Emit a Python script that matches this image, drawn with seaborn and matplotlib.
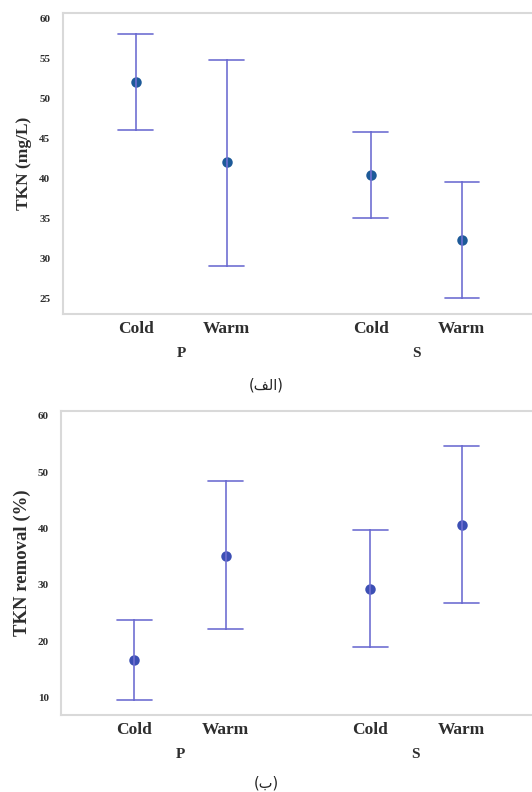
import numpy as np
import pandas as pd
import matplotlib
matplotlib.use("Agg")
import matplotlib.pyplot as plt
import matplotlib.transforms as mtransforms
import seaborn as sns

# ---- data ----
groups = ["P", "S"]
conditions = ["Cold", "Warm"]

# panel (الف): TKN (mg/L)
tkn_mean = [52.0, 42.0, 40.4, 32.2]
tkn_low = [46.0, 29.0, 35.0, 25.0]
tkn_high = [58.0, 54.8, 45.8, 39.5]

# panel (ب): TKN removal (%)
rem_mean = [16.7, 35.1, 29.2, 40.6]
rem_low = [9.5, 22.1, 18.9, 26.7]
rem_high = [23.8, 48.4, 39.7, 54.7]

yticks_top = [25, 30, 35, 40, 45, 50, 55, 60]
yticks_bot = [10, 20, 30, 40, 50, 60]
# Arabic captions "(الف)" and "(ب)"; matplotlib has no Arabic shaping, so the
# word is written with Arabic presentation forms in visual order.
captions = ["(\ufed2\ufedf\ufe8d)", "(\ufe8f)"]
ylabels = ["TKN (mg/L)", "TKN removal (%)"]

# ---- layout / style ----
GROUP_GAP = 2.58
LINE_C = "#6f6fd2"
MARK_C = ["#1d5a98", "#3c4fb4"]
SPINE_C = "#d9d9d9"
TEXT_C = "#2e2e2e"
SERIF = ["Liberation Serif", "DejaVu Serif"]


def make_df(low, mean, high):
    rows = []
    i = 0
    for gi, g in enumerate(groups):
        for ci, c in enumerate(conditions):
            for v in (low[i], mean[i], high[i]):
                rows.append({"group": g, "cond": c, "pos": gi * GROUP_GAP + ci, "val": v})
            i += 1
    return pd.DataFrame(rows)


sns.set_theme(style="white")
plt.rcParams["font.family"] = ["DejaVu Sans"]

fig = plt.figure(figsize=(5.32, 7.92), dpi=100)
ax_top = fig.add_axes([0.118, 0.6035, 0.882, 0.3795])
ax_bot = fig.add_axes([0.115, 0.0972, 0.885, 0.3842])

panels = [
    (ax_top, make_df(tkn_low, tkn_mean, tkn_high), (23.0, 60.6), yticks_top, MARK_C[0], 12.5),
    (ax_bot, make_df(rem_low, rem_mean, rem_high), (6.86, 60.9), yticks_bot, MARK_C[1], 13.5),
]

for k, (ax, df, ylim, yt, mc, ylfs) in enumerate(panels):
    sns.pointplot(data=df, x="pos", y="val", estimator="median",
                  errorbar=("pi", 100), native_scale=True, linestyle="none",
                  color=mc, markersize=5.5, capsize=0.38,
                  err_kws={"color": LINE_C, "linewidth": 1.2}, ax=ax)
    ax.set_xlim(-0.80, 4.35)
    ax.set_ylim(*ylim)
    ax.set_yticks(yt)
    ax.set_yticklabels([str(t) for t in yt], fontsize=8, fontweight="bold",
                       family=SERIF, color=TEXT_C)
    pos = sorted(df["pos"].unique())
    ax.set_xticks(pos)
    ax.set_xticklabels(conditions * len(groups), fontsize=12.5, fontweight="bold",
                       family=SERIF, color=TEXT_C)
    ax.tick_params(axis="both", length=0)
    ax.tick_params(axis="y", pad=9)
    ax.tick_params(axis="x", pad=5)
    ax.set_xlabel("")
    ax.set_ylabel(ylabels[k], fontsize=ylfs, fontweight="bold", family=SERIF,
                  color=TEXT_C, labelpad=5)
    for side in ["left", "bottom", "top"]:
        ax.spines[side].set_visible(True)
        ax.spines[side].set_color(SPINE_C)
        ax.spines[side].set_linewidth(1.5)
    ax.spines["right"].set_visible(False)
    trans = mtransforms.blended_transform_factory(ax.transData, ax.transAxes)
    for gi, g in enumerate(groups):
        ax.text(gi * GROUP_GAP + 0.5, -0.13, g, transform=trans, ha="center",
                va="center", fontsize=11, fontweight="bold", family=SERIF,
                color=TEXT_C)

fig.text(0.5, 1 - 385 / 792, captions[0], ha="center", va="center", fontsize=10.5,
         family=["DejaVu Sans"])
fig.text(0.5, 1 - 783 / 792, captions[1], ha="center", va="center", fontsize=10.5,
         family=["DejaVu Sans"])

fig.savefig("out.png", dpi=100)
